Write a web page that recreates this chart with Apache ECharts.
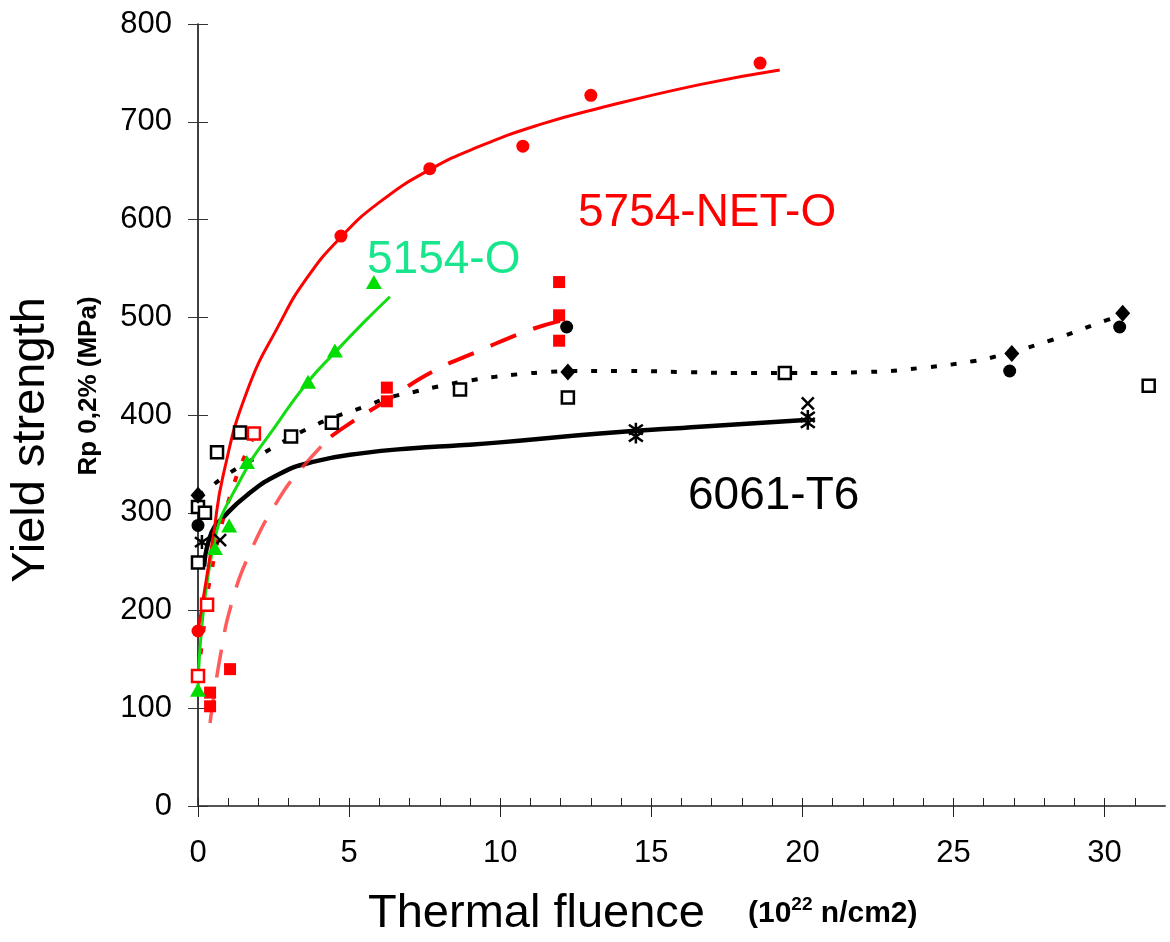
<!DOCTYPE html>
<html>
<head>
<meta charset="utf-8">
<script src="https://cdn.jsdelivr.net/npm/echarts@6/dist/echarts.min.js"></script>
<style>html,body{margin:0;padding:0;background:#fff}#c{width:1170px;height:942px}</style>
</head>
<body>
<div id="c"></div>
<script>
// ---- data ----
const xTicks = [0, 5, 10, 15, 20, 25, 30];
const yTicks = [0, 100, 200, 300, 400, 500, 600, 700, 800];

// 5754-NET-O (red filled circles) and its fit
const netO_pts = [[0,179],[4.73,583],[7.67,652],[10.75,675],[13.0,727],[18.6,760]];
const netO_fit = [[0,179],[0.5,275],[0.83,338],[1.62,424],[2.71,494],[3.6,540],[4.73,582],[6.02,618],[7.67,651],[9.33,675],[11.3,697],[13.3,714],[16.6,738],[19.25,753]];

// 5154-O (green triangles) and its fit
const o5154_pts = [[0,119],[0.56,264],[1.03,287],[1.62,352],[3.64,434],[4.53,466],[5.82,536]];
const o5154_fit = [[0,119],[0.5,265],[1.39,333],[2.71,395],[3.64,434],[4.53,464],[5.46,494],[6.35,521]];

// red filled squares and dashed fit
const redSq_pts = [[0.4,116],[0.4,102],[1.06,140],[6.25,428],[6.25,414],[11.95,536],[11.95,502],[11.95,476]];
const redSq_fitLow = [[0.4,85],[0.73,152],[1.12,208],[1.72,259],[2.65,313],[3.47,347],[4.4,378]];
const redSq_fitHigh = [[4.4,378],[5.1,393],[6.25,415],[7.74,444],[9.33,466],[10.98,487],[12.07,497]];

// red open squares and dotted fit
const redOpen_pts = [[0,133],[0.3,206],[1.85,381]];
const redOpen_fit = [[0,133],[0.13,167],[0.43,238],[1.12,323],[1.79,374]];

// black open squares
const blkOpen_pts = [[0,249],[0,306],[0.23,300],[0.63,362],[1.39,382],[3.08,378],[4.43,392],[8.67,426],[12.24,418],[19.42,443],[31.46,430]];

// black diamonds, black circles, dotted fit
const blkDiamond_pts = [[0,318],[12.24,444],[26.93,463],[30.6,504]];
const blkCircle_pts = [[0,287],[12.2,490],[26.86,445],[30.5,490]];
const blkDotted_fit = [[0,318],[0.17,321],[1.06,341],[1.95,357],[2.78,372],[3.7,387],[4.53,398],[5.46,408],[6.35,418],[7.2,424],[8.07,430],[8.93,435],[9.82,439],[10.72,442],[11.58,444],[12.47,445],[14.2,445],[16.04,444],[17.83,443],[19.48,443],[20.34,443],[22.16,444],[23.88,448],[25.64,455],[26.53,461],[28.28,477],[30.07,497],[30.4,500]];

// 6061-T6 (asterisks / crosses) and its fit
const t6_ast = [[0.13,270],[14.49,385],[14.49,378],[20.18,398],[20.18,392]];
const t6_cross = [[0.73,272],[20.18,412]];
const t6_fit = [[0.2,245],[0.45,280],[0.83,295],[1.62,318],[2.71,340],[3.8,352],[5.46,361],[7.11,366],[8.67,369],[9.99,372],[13.3,381],[16.6,388],[20.1,395]];

// ---- chart ----
const FONT = '"Liberation Sans", Arial, sans-serif';
const minorX = [];
for (let i = 0; i <= 31; i++) minorX.push(i);

const astPath = 'path://M5,0L5,10M0.7,1.5L9.3,8.5M9.3,1.5L0.7,8.5';
const crossPath = 'path://M0.7,0.7L9.3,9.3M9.3,0.7L0.7,9.3';

const chart = echarts.init(document.getElementById('c'), null, {renderer: 'canvas'});
const lineBase = {type: 'line', smooth: true, showSymbol: false, symbol: 'none', silent: true, z: 2};
const scatBase = {type: 'scatter', silent: true, z: 5};

chart.setOption({
  animation: false,
  backgroundColor: '#fff',
  grid: {left: 198, top: 24, width: 967, height: 782, containLabel: false},
  xAxis: [
    {type: 'value', min: 0, max: 32, position: 'bottom',
     axisLine: {show: true, onZero: false, lineStyle: {color: '#555', width: 2}},
     axisTick: {show: true, inside: false, length: 11, customValues: xTicks, lineStyle: {color: '#222', width: 1}},
     axisLabel: {show: true, customValues: xTicks, margin: 32, fontSize: 31, color: '#000', fontFamily: FONT},
     splitLine: {show: false}},
    {type: 'value', min: 0, max: 32, position: 'bottom',
     axisLine: {show: false, onZero: false},
     axisTick: {show: true, inside: true, length: 8, customValues: minorX, lineStyle: {color: '#222', width: 1}},
     axisLabel: {show: false}, splitLine: {show: false}}
  ],
  yAxis: [
    {type: 'value', min: 0, max: 800, interval: 100, position: 'left',
     axisLine: {show: true, onZero: false, lineStyle: {color: '#000', width: 1.5}},
     axisTick: {show: true, inside: false, length: 10, lineStyle: {color: '#333', width: 1}},
     axisLabel: {show: true, margin: 26, fontSize: 31, color: '#000', fontFamily: FONT},
     splitLine: {show: false}},
    {type: 'value', min: 0, max: 800, interval: 100, position: 'left',
     axisLine: {show: false, onZero: false},
     axisTick: {show: true, inside: true, length: 10, lineStyle: {color: '#333', width: 1}},
     axisLabel: {show: false}, splitLine: {show: false}}
  ],
  series: [
    Object.assign({}, lineBase, {data: t6_fit, lineStyle: {color: '#000', width: 4.5}}),
    Object.assign({}, lineBase, {data: blkDotted_fit, lineStyle: {color: '#000', width: 4, type: [6, 14]}}),
    Object.assign({}, lineBase, {data: redSq_fitLow, lineStyle: {color: 'rgba(255,50,50,0.8)', width: 3.5, type: [28, 18]}}),
    Object.assign({}, lineBase, {data: redSq_fitHigh, lineStyle: {color: '#ff0000', width: 4, type: [28, 18]}}),
    Object.assign({}, lineBase, {data: redOpen_fit, lineStyle: {color: '#ff0000', width: 4, type: [6, 16]}}),
    Object.assign({}, lineBase, {data: o5154_fit, lineStyle: {color: '#11dd11', width: 3}}),
    Object.assign({}, lineBase, {data: netO_fit, lineStyle: {color: '#ff0000', width: 3}}),

    Object.assign({}, scatBase, {data: blkOpen_pts, symbol: 'rect', symbolSize: 12, itemStyle: {color: '#fff', borderColor: '#000', borderWidth: 2.5, opacity: 1}}),
    Object.assign({}, scatBase, {data: redOpen_pts, symbol: 'rect', symbolSize: 12, itemStyle: {color: '#fff', borderColor: '#ff0000', borderWidth: 2.5, opacity: 1}}),
    Object.assign({}, scatBase, {data: blkCircle_pts, symbol: 'circle', symbolSize: 13, itemStyle: {color: '#000', opacity: 1}}),
    Object.assign({}, scatBase, {data: blkDiamond_pts, symbol: 'diamond', symbolSize: [15, 17], itemStyle: {color: '#000', opacity: 1}}),
    Object.assign({}, scatBase, {data: t6_ast, symbol: astPath, symbolSize: 14, itemStyle: {color: 'rgba(0,0,0,0)', borderColor: '#000', borderWidth: 2.5, opacity: 1}}),
    Object.assign({}, scatBase, {data: t6_cross, symbol: crossPath, symbolSize: 12, itemStyle: {color: 'rgba(0,0,0,0)', borderColor: '#000', borderWidth: 2.5, opacity: 1}}),
    Object.assign({}, scatBase, {data: redSq_pts, symbol: 'rect', symbolSize: 12, itemStyle: {color: '#ff0000', opacity: 1}}),
    Object.assign({}, scatBase, {data: o5154_pts, symbol: 'triangle', symbolSize: [16, 14], itemStyle: {color: '#00dd00', opacity: 1}}),
    Object.assign({}, scatBase, {data: netO_pts, symbol: 'circle', symbolSize: 13, itemStyle: {color: '#ff0000', opacity: 1}})
  ],
  graphic: [
    {type: 'text', left: 578, top: 190, z: 10, style: {text: '5754-NET-O', fontSize: 46, fill: '#ff0000', fontFamily: FONT}},
    {type: 'text', left: 367, top: 237, z: 10, style: {text: '5154-O', fontSize: 46, fill: '#19e68c', fontFamily: FONT}},
    {type: 'text', left: 688, top: 473, z: 10, style: {text: '6061-T6', fontSize: 46, fill: '#000', fontFamily: FONT}},
    {type: 'text', x: 31, y: 440, rotation: Math.PI / 2, z: 10, style: {text: 'Yield strength', fontSize: 47, fill: '#000', fontFamily: FONT, align: 'center', verticalAlign: 'middle'}},
    {type: 'text', x: 89, y: 386, rotation: Math.PI / 2, z: 10, style: {text: 'Rp 0,2% (MPa)', fontSize: 26, fontWeight: 'bold', fill: '#000', fontFamily: FONT, align: 'center', verticalAlign: 'middle'}},
    {type: 'text', x: 368, y: 914, z: 10, style: {text: 'Thermal fluence', fontSize: 47, fill: '#000', fontFamily: FONT, align: 'left', verticalAlign: 'middle'}},
    {type: 'text', x: 748, y: 912, z: 10, style: {text: '{a|(10}{s|22}{a| n/cm2)}', fill: '#000', fontFamily: FONT, align: 'left', verticalAlign: 'middle',
      rich: {a: {fontSize: 30, fontWeight: 'bold', fontFamily: FONT, verticalAlign: 'bottom', lineHeight: 34},
             s: {fontSize: 19, fontWeight: 'bold', fontFamily: FONT, verticalAlign: 'top', lineHeight: 34}}}}
  ]
});
</script>
</body>
</html>
